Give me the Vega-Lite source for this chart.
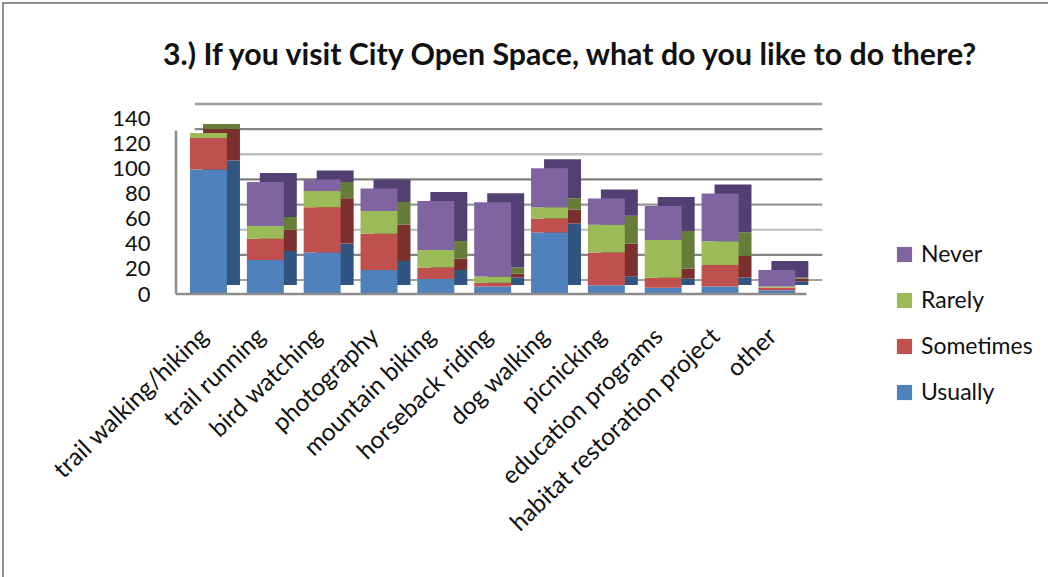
{"$schema":"https://vega.github.io/schema/vega-lite/v6.json","width":1060,"height":590,"padding":{"left":3,"top":3,"right":8,"bottom":0},"autosize":{"type":"none"},"background":"#ffffff","config":{"view":{"stroke":"#8f8f8f","strokeWidth":2},"font":"Lato"},"title":{"text":"3.) If you visit City Open Space, what do you like to do there?","fontSize":30.3,"fontWeight":"bold","font":"Lato","color":"#111111","anchor":"start","offset":-68,"dx":160},"resolve":{"scale":{"color":"independent","strokeWidth":"independent"}},"datasets":{"rows":[{"a":"trail walking/hiking","s":"Usually","o":1,"v":99},{"a":"trail walking/hiking","s":"Sometimes","o":2,"v":25},{"a":"trail walking/hiking","s":"Rarely","o":3,"v":4},{"a":"trail walking/hiking","s":"Never","o":4,"v":0},{"a":"trail running","s":"Usually","o":1,"v":27},{"a":"trail running","s":"Sometimes","o":2,"v":17},{"a":"trail running","s":"Rarely","o":3,"v":10},{"a":"trail running","s":"Never","o":4,"v":35},{"a":"bird watching","s":"Usually","o":1,"v":33},{"a":"bird watching","s":"Sometimes","o":2,"v":36},{"a":"bird watching","s":"Rarely","o":3,"v":13},{"a":"bird watching","s":"Never","o":4,"v":9},{"a":"photography","s":"Usually","o":1,"v":19},{"a":"photography","s":"Sometimes","o":2,"v":29},{"a":"photography","s":"Rarely","o":3,"v":18},{"a":"photography","s":"Never","o":4,"v":18},{"a":"mountain biking","s":"Usually","o":1,"v":12},{"a":"mountain biking","s":"Sometimes","o":2,"v":9},{"a":"mountain biking","s":"Rarely","o":3,"v":14},{"a":"mountain biking","s":"Never","o":4,"v":39},{"a":"horseback riding","s":"Usually","o":1,"v":6},{"a":"horseback riding","s":"Sometimes","o":2,"v":3},{"a":"horseback riding","s":"Rarely","o":3,"v":5},{"a":"horseback riding","s":"Never","o":4,"v":59},{"a":"dog walking","s":"Usually","o":1,"v":49},{"a":"dog walking","s":"Sometimes","o":2,"v":11},{"a":"dog walking","s":"Rarely","o":3,"v":9},{"a":"dog walking","s":"Never","o":4,"v":31},{"a":"picnicking","s":"Usually","o":1,"v":7},{"a":"picnicking","s":"Sometimes","o":2,"v":26},{"a":"picnicking","s":"Rarely","o":3,"v":22},{"a":"picnicking","s":"Never","o":4,"v":21},{"a":"education programs","s":"Usually","o":1,"v":5},{"a":"education programs","s":"Sometimes","o":2,"v":8},{"a":"education programs","s":"Rarely","o":3,"v":30},{"a":"education programs","s":"Never","o":4,"v":27},{"a":"habitat restoration project","s":"Usually","o":1,"v":6},{"a":"habitat restoration project","s":"Sometimes","o":2,"v":17},{"a":"habitat restoration project","s":"Rarely","o":3,"v":19},{"a":"habitat restoration project","s":"Never","o":4,"v":38},{"a":"other","s":"Usually","o":1,"v":3},{"a":"other","s":"Sometimes","o":2,"v":2},{"a":"other","s":"Rarely","o":3,"v":1},{"a":"other","s":"Never","o":4,"v":13}],"grid":[{"g":0},{"g":20},{"g":40},{"g":60},{"g":80},{"g":100},{"g":120},{"g":140}]},"layer":[{"data":{"name":"grid"},"mark":{"type":"rule","yOffset":-14},"encoding":{"y":{"field":"g","type":"quantitative","scale":{"domain":[0,140],"range":[291,115]},"axis":{"values":[0,20,40,60,80,100,120,140],"orient":"left","offset":-151,"grid":false,"domain":false,"ticks":false,"labelFontSize":22,"labelColor":"#111111","labelPadding":4,"title":null}},"x":{"datum":"trail walking/hiking","type":"nominal","bandPosition":0.13,"scale":{"domain":["trail walking/hiking","trail running","bird watching","photography","mountain biking","horseback riding","dog walking","picnicking","education programs","habitat restoration project","other"],"range":[175.6,819],"paddingInner":0.35,"paddingOuter":0.335,"align":0.3},"axis":{"orient":"bottom","offset":-299,"domain":false,"ticks":false,"labelAngle":-44,"labelFontSize":24.4,"labelColor":"#111111","labelAlign":"right","labelBaseline":"top","labelPadding":30,"labelOffset":-12,"labelLimit":400,"title":null}},"x2":{"datum":"other","bandPosition":1.73},"color":{"field":"g","type":"ordinal","legend":null,"scale":{"domain":[0,20,40,60,80,100,120,140],"range":["#a0a0a0","#858585","#bcbcbc","#969696","#7f7f7f","#bfbfbf","#858585","#a0a0a0"]}},"strokeWidth":{"field":"g","type":"ordinal","legend":null,"scale":{"domain":[0,20,40,60,80,100,120,140],"range":[2,2.5,3,1.5,2.5,5,2.5,2.5]}}}},{"data":{"name":"rows"},"mark":{"type":"bar","stroke":null,"xOffset":13,"yOffset":-9},"encoding":{"x":{"field":"a","type":"nominal","sort":null},"y":{"field":"v","type":"quantitative","stack":"zero"},"order":{"field":"o","type":"ordinal"},"color":{"field":"s","type":"nominal","legend":null,"scale":{"domain":["Never","Rarely","Sometimes","Usually"],"range":["#534072","#667d3a","#7c302d","#2f5580"]}}}},{"data":{"name":"rows"},"mark":{"type":"bar","stroke":null},"encoding":{"x":{"field":"a","type":"nominal","sort":null},"y":{"field":"v","type":"quantitative","stack":"zero"},"order":{"field":"o","type":"ordinal"},"color":{"field":"s","type":"nominal","scale":{"domain":["Never","Rarely","Sometimes","Usually"],"range":["#8064a2","#9bbb59","#c0504d","#4f81bd"]},"legend":{"orient":"none","legendX":890,"legendY":240,"title":null,"labelFontSize":23,"labelColor":"#111111","symbolType":"square","symbolSize":230,"rowPadding":22,"labelOffset":5,"labelLimit":200}}}},{"data":{"name":"grid"},"transform":[{"filter":"datum.g === 0"}],"mark":{"type":"rule","color":"#8c8c8c","strokeWidth":2.5},"encoding":{"y":{"field":"g","type":"quantitative"},"x":{"datum":"trail walking/hiking","type":"nominal","bandPosition":-0.38},"x2":{"datum":"other","bandPosition":1.3}}},{"data":{"name":"grid"},"transform":[{"filter":"datum.g === 0"}],"mark":{"type":"rule","color":"#8c8c8c","strokeWidth":2.5},"encoding":{"y":{"datum":0,"type":"quantitative"},"y2":{"datum":130},"x":{"datum":"trail walking/hiking","type":"nominal","bandPosition":-0.38}}}]}
